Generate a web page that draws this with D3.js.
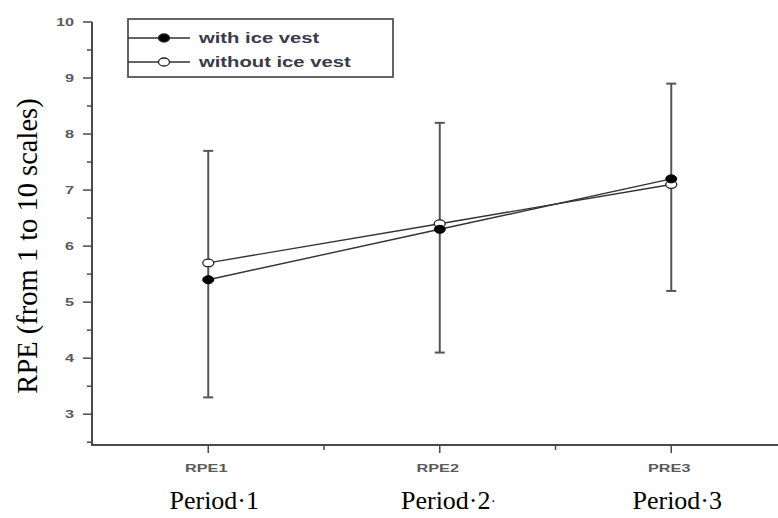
<!DOCTYPE html>
<html><head><meta charset="utf-8">
<script src="https://cdn.jsdelivr.net/npm/d3@7"></script>
<style>body{margin:0;background:#fff}svg{display:block}</style>
</head><body><svg id="c" width="778" height="518"></svg>
<script>
const categories = ["RPE1", "RPE2", "PRE3"];
const periodLabels = ["Period\u00b71", "Period\u00b72", "Period\u00b73"];
const periodSuffix = ["", "\u00b7", ""];
const withVest = [5.4, 6.3, 7.2];
const withoutVest = [5.7, 6.4, 7.1];
const errHigh = [7.7, 8.2, 8.9];
const errLow = [3.3, 4.1, 5.2];
const yTicks = [3, 4, 5, 6, 7, 8, 9, 10];
const seriesNames = ["with ice vest", "without ice vest"];

const svg = d3.select("#c");
const axX = 92;
const x = d3.scaleLinear().domain([0.5, 3.5]).range([92.5, 787]);
const y = d3.scaleLinear().domain([2.45, 10]).range([445, 22]);
const axisColor = "#4a4a4a";
const stretch = 1.55;

// Y axis
const yAxis = svg.append("g").attr("transform", `translate(${axX},0)`);
yAxis.append("line").attr("x1",0).attr("x2",0).attr("y1",y(10)).attr("y2",y(2.45)+1)
  .attr("stroke",axisColor).attr("stroke-width",2);
const minorY = d3.range(2.5, 10, 0.5).filter(v => !Number.isInteger(v));
yAxis.selectAll(".ymaj").data(yTicks).join("line")
  .attr("x1",-9).attr("x2",0).attr("y1",d=>y(d)).attr("y2",d=>y(d))
  .attr("stroke",axisColor).attr("stroke-width",1.5);
yAxis.selectAll(".ymin").data(minorY).join("line")
  .attr("x1",-5).attr("x2",0).attr("y1",d=>y(d)).attr("y2",d=>y(d))
  .attr("stroke",axisColor).attr("stroke-width",1.5);
yAxis.selectAll(".ylab").data(yTicks).join("text")
  .attr("transform",d=>`translate(-18,${y(d)}) scale(${stretch},1)`)
  .attr("dy","0.35em").attr("text-anchor","end")
  .attr("font-family","Liberation Sans, Arial, sans-serif").attr("font-weight","bold")
  .attr("font-size",10.5).attr("fill","#5a5a5a").text(d=>d);

// X axis
const xAxis = svg.append("g").attr("transform","translate(0,445)");
xAxis.append("line").attr("x1",axX-1).attr("x2",778).attr("y1",0).attr("y2",0)
  .attr("stroke",axisColor).attr("stroke-width",2);
xAxis.selectAll(".xmaj").data(categories).join("line")
  .attr("x1",(d,i)=>x(i+1)).attr("x2",(d,i)=>x(i+1)).attr("y1",0).attr("y2",8)
  .attr("stroke",axisColor).attr("stroke-width",1.5);
xAxis.selectAll(".xmin").data([1.5,2.5]).join("line")
  .attr("x1",d=>x(d)).attr("x2",d=>x(d)).attr("y1",0).attr("y2",5)
  .attr("stroke",axisColor).attr("stroke-width",1.5);
xAxis.selectAll(".xlab").data(categories).join("text")
  .attr("transform",(d,i)=>`translate(${x(i+1)-2},27) scale(${stretch},1)`)
  .attr("text-anchor","middle")
  .attr("font-family","Liberation Sans, Arial, sans-serif").attr("font-weight","bold")
  .attr("font-size",10.5).attr("fill","#5a5a5a").text(d=>d);

svg.selectAll(".plab").data(periodLabels).join("text")
  .attr("x",(d,i)=>x(i+1)+6).attr("y",509).attr("text-anchor","middle")
  .attr("font-family","Liberation Serif, Times New Roman, serif")
  .attr("font-size",26).attr("fill","#000").text(d=>d);
svg.selectAll(".psuf").data(periodSuffix).join("text")
  .attr("x",(d,i)=>x(i+1)+6+45).attr("y",506)
  .attr("font-family","Liberation Serif, Times New Roman, serif")
  .attr("font-size",15).attr("fill","#000").text(d=>d);

// Y title
svg.append("text").attr("transform","translate(37,246) rotate(-90)")
  .attr("text-anchor","middle").attr("font-family","Liberation Serif, Times New Roman, serif")
  .attr("font-size",28.5).attr("fill","#000").text("RPE (from 1 to 10 scales)");

// Error bars
const eb = svg.append("g").attr("stroke","#555").attr("stroke-width",2);
categories.forEach((c,i)=>{
  const cx = x(i+1);
  eb.append("line").attr("x1",cx).attr("x2",cx).attr("y1",y(errHigh[i])).attr("y2",y(errLow[i]));
  eb.append("line").attr("x1",cx-5).attr("x2",cx+5).attr("y1",y(errHigh[i])).attr("y2",y(errHigh[i]));
  eb.append("line").attr("x1",cx-5).attr("x2",cx+5).attr("y1",y(errLow[i])).attr("y2",y(errLow[i]));
});

// Lines
const line = d3.line().x((d,i)=>x(i+1)).y(d=>y(d));
[withoutVest, withVest].forEach(s=>{
  svg.append("path").attr("d",line(s)).attr("fill","none").attr("stroke","#333").attr("stroke-width",1.4);
});
// Markers
svg.selectAll(".mo").data(withoutVest).join("ellipse")
  .attr("cx",(d,i)=>x(i+1)).attr("cy",d=>y(d)).attr("rx",5.5).attr("ry",3.8)
  .attr("fill","#fff").attr("stroke","#222").attr("stroke-width",1.3);
svg.selectAll(".mf").data(withVest).join("ellipse")
  .attr("cx",(d,i)=>x(i+1)).attr("cy",d=>y(d)).attr("rx",5.5).attr("ry",4)
  .attr("fill","#000").attr("stroke","#000").attr("stroke-width",1);

// Legend
const lg = svg.append("g");
lg.append("rect").attr("x",128).attr("y",19).attr("width",265).attr("height",58)
  .attr("fill","#fff").attr("stroke","#555").attr("stroke-width",1.8);
const rows = [38, 62];
seriesNames.forEach((n,i)=>{
  lg.append("line").attr("x1",128).attr("x2",190).attr("y1",rows[i]).attr("y2",rows[i])
    .attr("stroke","#333").attr("stroke-width",1.5);
  lg.append("ellipse").attr("cx",164).attr("cy",rows[i]).attr("rx",5.5).attr("ry",4)
    .attr("fill", i===0?"#000":"#fff").attr("stroke","#222").attr("stroke-width",1.3);
  lg.append("text").attr("transform",`translate(199,${rows[i]}) scale(1.35,1)`).attr("dy","0.35em")
    .attr("font-family","Liberation Sans, Arial, sans-serif").attr("font-weight","bold")
    .attr("font-size",15).attr("fill","#3a3a4a").text(n);
});
</script></body></html>
